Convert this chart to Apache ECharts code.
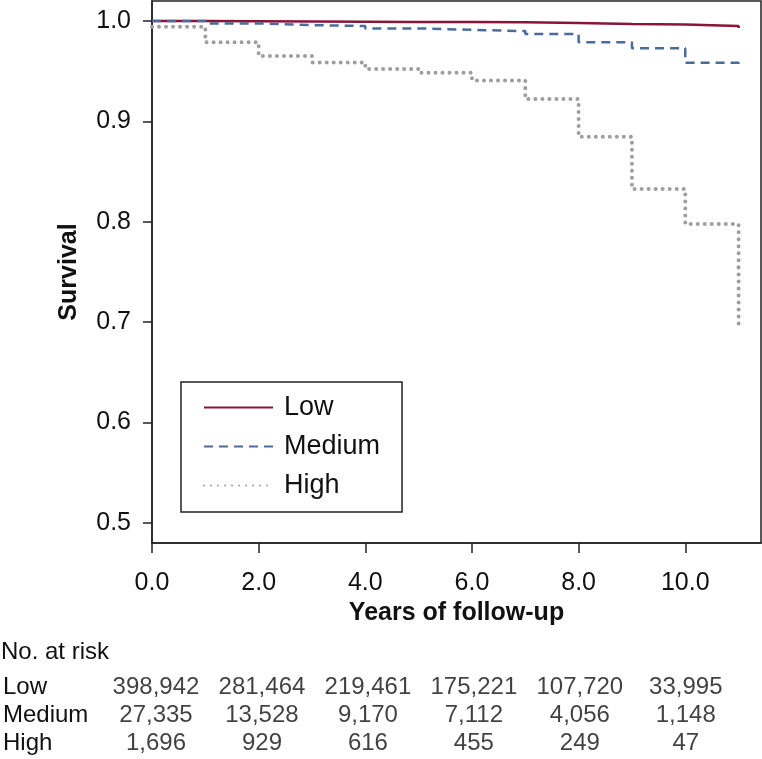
<!DOCTYPE html>
<html>
<head>
<meta charset="utf-8">
<script src="https://cdn.jsdelivr.net/npm/echarts@6/dist/echarts.min.js"></script>
<style>html,body{margin:0;padding:0;background:#fff}#c{width:762px;height:759px}</style>
</head>
<body>
<div id="c"></div>
<script>
// ---- data ----
const years = [0, 1, 2, 3, 4, 5, 6, 7, 8, 9, 10, 11];
const lowSurv    = [1.0, 0.9998, 0.9996, 0.9994, 0.9992, 0.999, 0.9988, 0.998, 0.997, 0.9965, 0.995, 0.993];
const mediumSurv = [1.0, 0.9977, 0.996, 0.995, 0.9927, 0.9913, 0.990, 0.987, 0.979, 0.9728, 0.9584, 0.9555];
const highSurv   = [0.9943, 0.9788, 0.9651, 0.9588, 0.9522, 0.9485, 0.9409, 0.9223, 0.8847, 0.8326, 0.7977, 0.697];
const xTicks = [0, 2, 4, 6, 8, 10];
const yTicks = [0.5, 0.6, 0.7, 0.8, 0.9, 1.0];
const groups = ['Low', 'Medium', 'High'];
const riskTimes = [0, 2, 4, 6, 8, 10];
const riskLow    = [398942, 281464, 219461, 175221, 107720, 33995];
const riskMedium = [27335, 13528, 9170, 7112, 4056, 1148];
const riskHigh   = [1696, 929, 616, 455, 249, 47];

const FONT = "'Liberation Sans', Arial, Helvetica, sans-serif";
const pair = (arr) => years.map((t, i) => [t, arr[i]]);
const riskRows = { Low: riskLow, Medium: riskMedium, High: riskHigh };
const riskData = [];
groups.forEach(g => riskTimes.forEach((t, i) => riskData.push([t, g, riskRows[g][i]])));

const XMIN = 0, XMAX = 11.42;
const chart = echarts.init(document.getElementById('c'), null, { renderer: 'canvas' });
chart.setOption({
  animation: false,
  backgroundColor: '#fff',
  title: {
    text: 'No. at risk', left: 1, top: 640, padding: 0,
    textStyle: { fontFamily: FONT, fontSize: 24, fontWeight: 'normal', color: '#111' }
  },
  legend: {
    data: groups,
    orient: 'vertical',
    left: 181, top: 382,
    padding: [12, 22, 13, 22],
    itemWidth: 69, itemHeight: 27, itemGap: 12,
    borderColor: '#222', borderWidth: 1.5,
    itemStyle: { opacity: 0 },
    textStyle: { fontFamily: FONT, fontSize: 27, color: '#111', padding: [0, 0, 0, 6] }
  },
  grid: [
    { left: 152, right: 1, top: 1, bottom: 216, show: true, borderColor: '#222', borderWidth: 1.5, containLabel: false },
    { left: 152, right: 1, top: 674, bottom: 2, containLabel: false }
  ],
  xAxis: [
    {
      type: 'value', gridIndex: 0, min: XMIN, max: XMAX,
      name: 'Years of follow-up', nameLocation: 'middle', nameGap: 56,
      nameTextStyle: { fontFamily: FONT, fontSize: 25, fontWeight: 'bold', color: '#111' },
      axisLine: { show: true, lineStyle: { color: '#222', width: 1.5 } },
      axisTick: { show: true, inside: false, length: 10, lineStyle: { color: '#222', width: 1.5 }, customValues: xTicks },
      axisLabel: { fontFamily: FONT, fontSize: 25, color: '#111', margin: 28, customValues: xTicks, formatter: v => v.toFixed(1) },
      splitLine: { show: false }
    },
    {
      type: 'value', gridIndex: 1, min: XMIN, max: XMAX,
      axisLine: { show: false }, axisTick: { show: false }, axisLabel: { show: false }, splitLine: { show: false }
    }
  ],
  yAxis: [
    {
      type: 'value', gridIndex: 0, min: 0.48, max: 1.02,
      name: 'Survival', nameLocation: 'middle', nameGap: 70,
      nameTextStyle: { fontFamily: FONT, fontSize: 25, fontWeight: 'bold', color: '#111' },
      axisLine: { show: true, lineStyle: { color: '#222', width: 1.5 } },
      axisTick: { show: true, inside: false, length: 9, lineStyle: { color: '#222', width: 1.5 }, customValues: yTicks },
      axisLabel: { fontFamily: FONT, fontSize: 25, color: '#111', margin: 21, customValues: yTicks, formatter: v => v.toFixed(1) },
      splitLine: { show: false }
    },
    {
      type: 'category', gridIndex: 1, data: groups, inverse: true,
      axisLine: { show: false }, axisTick: { show: false }, splitLine: { show: false },
      axisLabel: { fontFamily: FONT, fontSize: 24, color: '#111', align: 'left', margin: 153, interval: 0 }
    }
  ],
  series: [
    {
      name: 'Low', type: 'line', step: 'end', symbol: 'none', showSymbol: false, data: pair(lowSurv),
      xAxisIndex: 0, yAxisIndex: 0,
      lineStyle: { color: '#8a1538', width: 2.5 }, itemStyle: { color: '#8a1538' }
    },
    {
      name: 'Medium', type: 'line', step: 'end', symbol: 'none', showSymbol: false, data: pair(mediumSurv),
      xAxisIndex: 0, yAxisIndex: 0,
      lineStyle: { color: '#4a6c9c', width: 2.5, type: [9, 6] }, itemStyle: { color: '#4a6c9c' }
    },
    {
      name: 'High', type: 'line', step: 'end', symbol: 'none', showSymbol: false, data: pair(highSurv),
      xAxisIndex: 0, yAxisIndex: 0,
      lineStyle: { color: '#9e9ea1', width: 4, type: [0.01, 7], cap: 'round' }, itemStyle: { color: '#9e9ea1' }
    },
    {
      name: 'risk', type: 'scatter', xAxisIndex: 1, yAxisIndex: 1,
      symbolSize: 1, itemStyle: { color: 'rgba(0,0,0,0)' },
      data: riskData,
      label: {
        show: true, position: 'inside', fontFamily: FONT, fontSize: 24, color: '#111',
        formatter: p => p.value[2].toLocaleString('en-US')
      },
      silent: true
    }
  ]
});
</script>
</body>
</html>
